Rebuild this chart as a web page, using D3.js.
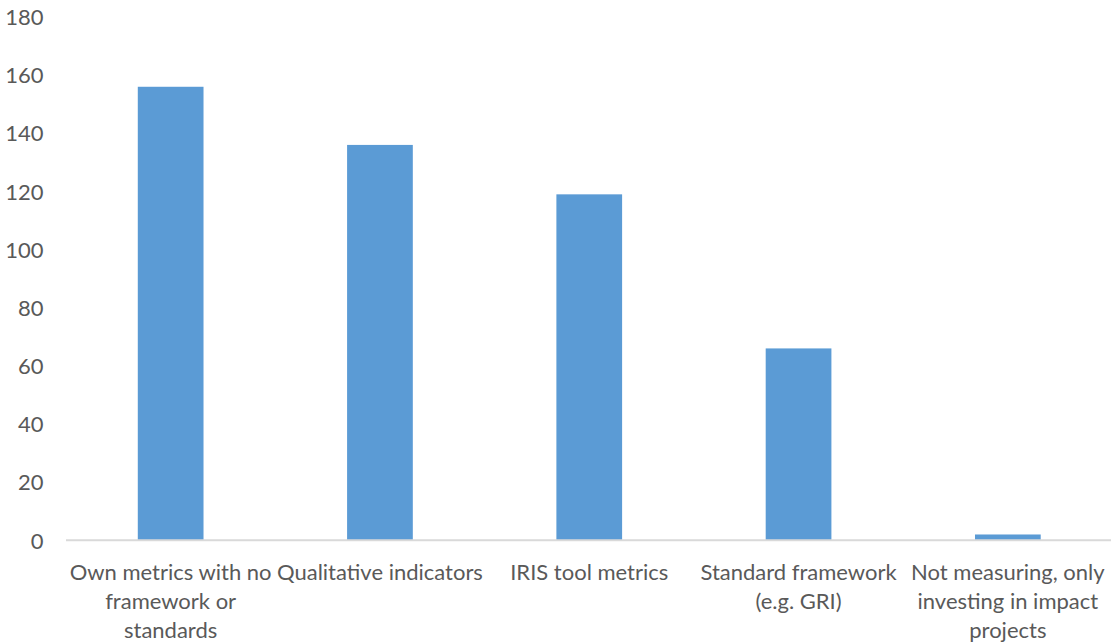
<!DOCTYPE html>
<html>
<head>
<meta charset="utf-8">
<script src="https://cdn.jsdelivr.net/npm/d3@7"></script>
<style>
  html, body { margin: 0; padding: 0; background: #fff; }
  svg { display: block; }
  text { font-family: Lato, "Open Sans", sans-serif; fill: #595959; }
</style>
</head>
<body>
<svg id="chart" width="1111" height="643"></svg>
<script>
// Impact measurement approaches and number of respondents
const categories = [
  "Own metrics with no framework or standards",
  "Qualitative indicators",
  "IRIS tool metrics",
  "Standard framework (e.g. GRI)",
  "Not measuring, only investing in impact projects"
];
const counts = [156, 136, 119, 66, 2];
const yTicks = [0, 20, 40, 60, 80, 100, 120, 140, 160, 180];

const svg = d3.select("#chart");
const W = 1111, H = 643;
const plot = { left: 66, right: 1112.5, top: 17, bottom: 540.3 };
const fontSize = 22;

const x = d3.scaleBand()
  .domain(categories)
  .range([plot.left, plot.right])
  .paddingInner(0.686)
  .paddingOuter(0.343);

const y = d3.scaleLinear()
  .domain([0, 180])
  .range([plot.bottom, plot.top]);

// Y axis: labels only
const yAxis = d3.axisLeft(y).tickValues(yTicks).tickSize(0).tickPadding(0);
const gy = svg.append("g")
  .attr("transform", `translate(${43.5},0)`)
  .call(yAxis);
gy.select(".domain").remove();
gy.selectAll("text")
  .attr("font-size", fontSize)
  .style("font-family", "Lato, 'Open Sans', sans-serif")
  .attr("fill", "#595959")
  .attr("dy", "0.35em");

// Bars
svg.append("g").selectAll("rect")
  .data(counts)
  .join("rect")
  .attr("x", (d, i) => x(categories[i]))
  .attr("width", x.bandwidth())
  .attr("y", d => y(d))
  .attr("height", d => y(0) - y(d))
  .attr("fill", "#5b9bd5");

// Category axis line
const xAxis = d3.axisBottom(x).tickSize(0).tickPadding(0).tickFormat("");
const gx = svg.append("g")
  .attr("transform", `translate(0,${plot.bottom})`)
  .call(xAxis);
gx.select(".domain").attr("stroke", "#d9d9d9").attr("stroke-width", 2)
  .attr("d", `M${plot.left},0H${W}`);

// Wrapped category labels
const maxWidth = x.step() + 6;
const measurer = svg.append("text").attr("font-size", fontSize).attr("visibility", "hidden");
function wrap(label) {
  const words = label.split(" ");
  const lines = [];
  let line = [];
  for (const w of words) {
    const trial = line.concat(w).join(" ");
    measurer.text(trial);
    if (line.length && measurer.node().getComputedTextLength() > maxWidth) {
      lines.push(line.join(" "));
      line = [w];
    } else {
      line.push(w);
    }
  }
  if (line.length) lines.push(line.join(" "));
  return lines;
}

const labels = svg.append("g").selectAll("text")
  .data(categories)
  .join("text")
  .attr("text-anchor", "middle")
  .attr("font-size", fontSize)
  .attr("x", d => x(d) + x.bandwidth() / 2);

labels.each(function (d) {
  const lines = wrap(d);
  d3.select(this).selectAll("tspan")
    .data(lines)
    .join("tspan")
    .attr("x", x(d) + x.bandwidth() / 2)
    .attr("y", (l, i) => 572.7 + i * 28.7)
    .attr("dy", "0.35em")
    .text(l => l);
});
measurer.remove();
</script>
</body>
</html>
